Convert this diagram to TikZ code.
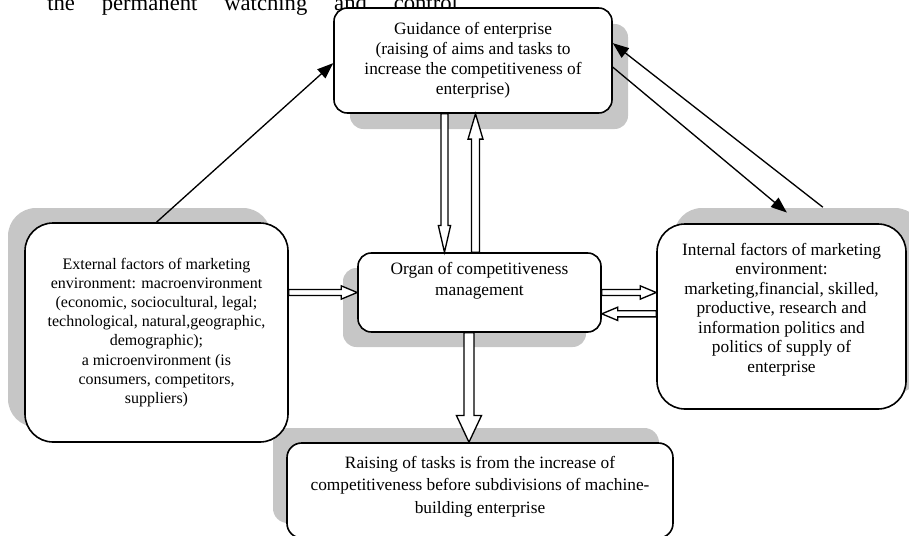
\documentclass[tikz,border=0pt]{standalone}
\usepackage{fontspec}
\setmainfont{Liberation Serif}
\usetikzlibrary{arrows.meta, calc, shadows}

% hollow block arrow: from, to, shaft half-width, head half-width, head length
\newcommand{\blockarrow}[5]{%
  \coordinate (ba-head) at ($(#2)!#5!(#1)$);
  \draw[hollow] ($(#1)!#3!90:(#2)$) -- ($(ba-head)!#3!90:(#2)$)
    -- ($(ba-head)!#4!90:(#2)$) -- (#2) -- ($(ba-head)!#4!-90:(#2)$)
    -- ($(ba-head)!#3!-90:(#2)$) -- ($(#1)!#3!-90:(#2)$) -- cycle;
}

\begin{document}
\begin{tikzpicture}[
  x=0.75pt, y=-0.75pt,
  box/.style={rectangle, draw=black, line width=1.2pt, fill=white,
              align=center, inner sep=2pt},
  shade/.style 2 args={drop shadow={shadow xshift=#1, shadow yshift=#2,
              fill=gray!45, opacity=1}},
  arr/.style={-{Triangle[length=12pt,width=9pt]}, line width=1pt},
  hollow/.style={draw=black, fill=white, line width=1pt, line join=miter}
]
  \useasboundingbox (0,0) rectangle (909,535);

  \node[anchor=base west, inner sep=0pt, font=\fontsize{17}{20}\selectfont] (note) at (47,11)
    {\makebox[308pt][s]{the permanent watching and control}};

  \node[box, rounded corners=11pt, minimum width=289.5pt, minimum height=71.25pt, text depth=9pt,
        shade={-10.5pt}{11.25pt}, font=\fontsize{13}{16.9}\selectfont] (tasks) at (480,490.5)
    {Raising of tasks is from the increase of\\competitiveness before subdivisions of machine-\\building enterprise};
  \node[box, rounded corners=10pt, minimum width=182.25pt, minimum height=59.25pt,
        shade={-11.25pt}{-11.25pt}, font=\fontsize{13}{15.75}\selectfont] (organ) at (479.5,292.5)
    {Organ of competitiveness\\management\\\strut};
  \node[box, rounded corners=10pt, minimum width=208.5pt, minimum height=78.75pt,
        shade={12pt}{-12pt}, font=\fontsize{13}{15}\selectfont] (guide) at (473,60.5)
    {Guidance of enterprise\\(raising of aims and tasks to\\increase the competitiveness of\\enterprise)};
  \node[box, rounded corners=21pt, minimum width=186.75pt, minimum height=138.75pt, text depth=13.5pt,
        shade={12.75pt}{12pt}, font=\fontsize{13}{14.6}\selectfont] (internal) at (781.5,316.5)
    {Internal factors of marketing\\environment:\\marketing,financial, skilled,\\productive, research and\\information politics and\\politics of supply of\\enterprise};
  \node[box, rounded corners=21pt, minimum width=197.25pt, minimum height=164.25pt,
        shade={-12.75pt}{11.25pt}, font=\fontsize{12}{14.3}\selectfont] (external) at (156.5,332.5)
    {External factors of marketing\\environment: macroenvironment\\(economic, sociocultural,  legal;\\technological, natural,geographic,\\demographic);\\a microenvironment (is\\consumers, competitors,\\suppliers)};

  \draw[arr] (external.north) -- ([yshift=-2pt]guide.west);
  \draw[arr] ([yshift=-5pt]guide.east) -- ([xshift=4pt,yshift=8pt]internal.north);
  \draw[arr] ([xshift=31pt,yshift=12pt]internal.north) -- ([yshift=13pt]guide.east);

  \coordinate (eo-a) at (external.east |- organ.west);
  \coordinate (oi-b) at (organ.east -| internal.west);
  \coordinate (io-b) at ([yshift=-16pt]organ.east);
  \coordinate (io-a) at (io-b -| internal.west);
  \coordinate (go-a) at ([xshift=-21.4pt]guide.south);
  \coordinate (go-b) at (go-a |- organ.north);
  \coordinate (og-a) at ([xshift=-3pt]organ.north);
  \coordinate (og-b) at (og-a |- guide.south);
  \coordinate (ot-a) at ([xshift=-7.9pt]organ.south);
  \coordinate (ot-b) at (ot-a |- tasks.north);

  \blockarrow{eo-a}{organ.west}{2.3pt}{5pt}{12pt}
  \blockarrow{organ.east}{oi-b}{2.3pt}{5pt}{12pt}
  \blockarrow{io-a}{io-b}{2.3pt}{5pt}{12pt}
  \blockarrow{go-a}{go-b}{2.6pt}{4.6pt}{20pt}
  \blockarrow{og-a}{og-b}{3pt}{5.6pt}{19pt}
  \blockarrow{ot-a}{ot-b}{3.75pt}{9.4pt}{20pt}
\end{tikzpicture}
\end{document}
